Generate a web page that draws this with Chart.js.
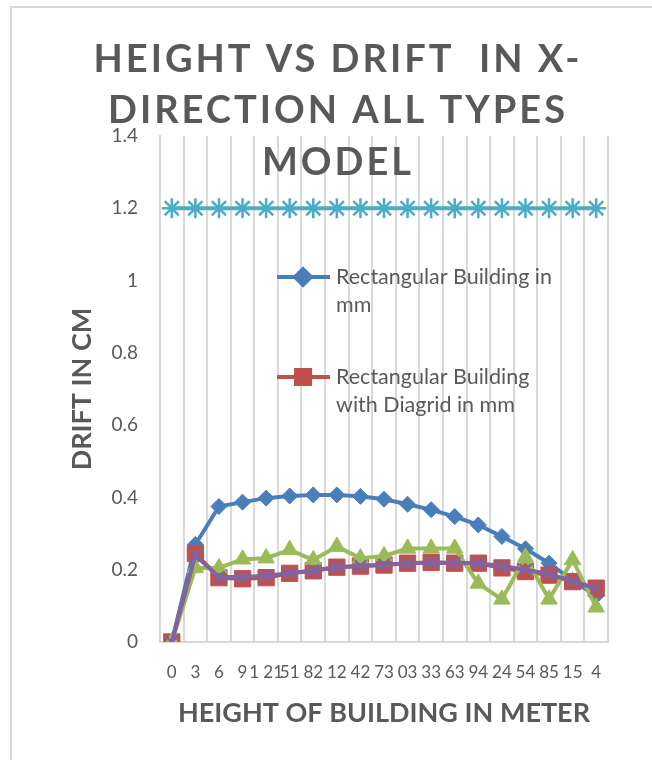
<!DOCTYPE html>
<html>
<head>
<meta charset="utf-8">
<script src="https://cdn.jsdelivr.net/npm/chart.js@4.4.1/dist/chart.umd.min.js"></script>
<style>
  body { margin: 0; background: #fff; }
  #wrap { width: 652px; height: 760px; }
</style>
</head>
<body>
<div id="wrap"><canvas id="drift" width="652" height="760"></canvas></div>
<script>
// tick labels as they appear on the axis (0..54 m, every 3 m)
const heightLabels = ["0", "3", "6", "9", "1 21", "51", "82", "12", "42", "73", "03", "33", "63", "94", "24", "54", "85", "15", "4"]

const rectBuilding = [0, 0.27, 0.375, 0.387, 0.398, 0.404, 0.407, 0.407, 0.403, 0.395, 0.381, 0.366, 0.347, 0.324, 0.292, 0.258, 0.218, 0.17, 0.128]
const rectDiagrid = [0, 0.245, 0.178, 0.175, 0.178, 0.19, 0.197, 0.207, 0.21, 0.213, 0.218, 0.22, 0.218, 0.218, 0.205, 0.195, 0.185, 0.167, 0.149]
const series3 = [0, 0.205, 0.205, 0.229, 0.232, 0.255, 0.227, 0.264, 0.232, 0.238, 0.259, 0.259, 0.259, 0.162, 0.118, 0.234, 0.118, 0.227, 0.096]
const series4 = [0, 0.24, 0.18, 0.18, 0.183, 0.19, 0.198, 0.207, 0.21, 0.214, 0.218, 0.22, 0.219, 0.218, 0.21, 0.2, 0.188, 0.168, 0.148]
const series5 = [1.2, 1.2, 1.2, 1.2, 1.2, 1.2, 1.2, 1.2, 1.2, 1.2, 1.2, 1.2, 1.2, 1.2, 1.2, 1.2, 1.2, 1.2, 1.2]

const titleLines = ["HEIGHT VS DRIFT  IN X-", "DIRECTION ALL TYPES", "MODEL"]
const textGray = "#595959"
const gridGray = "#d9d9d9"

function series(label, data, color, style, radius, order) {
	return {
		label: label,
		data: data,
		borderColor: color,
		backgroundColor: color,
		borderWidth: 4,
		pointStyle: style,
		pointRadius: radius,
		pointHoverRadius: radius,
		pointBackgroundColor: color,
		pointBorderColor: color,
		pointBorderWidth: (style === 'crossRot' || style === 'star') ? 2.5 : 1,
		tension: 0,
		order: order,
	}
}

// white background + outer chart frame
const framePlugin = {
	id: 'frame',
	beforeDraw(chart) {
		const ctx = chart.ctx
		ctx.save()
		ctx.fillStyle = '#fff'
		ctx.fillRect(0, 0, chart.width, chart.height)
		ctx.strokeStyle = gridGray
		ctx.lineWidth = 2
		ctx.strokeRect(11, 7, 700, 800)
		ctx.restore()
	}
}

// title sits over the top of the plot, like the original
const titlePlugin = {
	id: 'bigTitle',
	afterDraw(chart) {
		const ctx = chart.ctx
		const baselines = [72, 123, 175]
		ctx.save()
		ctx.fillStyle = textGray
		ctx.font = "bold 38px Lato"
		ctx.textAlign = 'center'
		ctx.textBaseline = 'alphabetic'
		ctx.letterSpacing = '3px'
		titleLines.forEach((line, i) => {
			ctx.fillText(line, 338, baselines[i])
		})
		ctx.restore()
	}
}

// legend drawn inside the plot, only the first two series show
const legendPlugin = {
	id: 'innerLegend',
	afterDraw(chart) {
		const ctx = chart.ctx
		const entries = [
			{ ds: 0, y: 277, lines: ["Rectangular Building in", "mm"] },
			{ ds: 1, y: 377, lines: ["Rectangular Building", "with Diagrid in mm"] },
		]
		ctx.save()
		entries.forEach(e => {
			const ds = chart.data.datasets[e.ds]
			ctx.strokeStyle = ds.borderColor
			ctx.lineWidth = 4
			ctx.beginPath()
			ctx.moveTo(277, e.y)
			ctx.lineTo(330, e.y)
			ctx.stroke()
			ctx.fillStyle = ds.pointBackgroundColor
			Chart.helpers.drawPoint(ctx, {
				pointStyle: ds.pointStyle,
				radius: e.ds === 1 ? 10 : ds.pointRadius,
				borderWidth: ds.pointBorderWidth,
				rotation: 0
			}, 303, e.y)
			ctx.fillStyle = textGray
			ctx.font = "21.5px Lato"
			ctx.textAlign = 'left'
			ctx.textBaseline = 'middle'
			e.lines.forEach((t, i) => ctx.fillText(t, 336, e.y + i * 28))
		})
		ctx.restore()
	}
}

new Chart(document.getElementById('drift'), {
	type: 'line',
	data: {
		labels: heightLabels,
		datasets: [
			series("Rectangular Building in mm", rectBuilding, "#4a7ebb", 'rectRot', 8, 5),
			series("Rectangular Building with Diagrid in mm", rectDiagrid, "#c0504d", 'rect', 11.5, 4),
			series("Series3", series3, "#9bbb59", 'triangle', 9.5, 3),
			series("Series4", series4, "#8064a2", 'crossRot', 8, 2),
			series("Series5", series5, "#4bacc6", 'star', 10, 1),
		]
	},
	options: {
		responsive: false,
		animation: false,
		devicePixelRatio: 1,
		layout: {
			padding: { left: 0, top: 136, right: 44, bottom: 0 }
		},
		plugins: {
			legend: { display: false },
			title: { display: false },
			tooltip: { enabled: false },
		},
		scales: {
			x: {
				offset: true,
				afterFit(scale) { scale.height = 118 },
				grid: {
					offset: true,
					color: gridGray,
					lineWidth: 2,
					drawTicks: false,
				},
				border: { color: gridGray, width: 2 },
				ticks: {
					color: textGray,
					font: { family: "Lato", size: 17 },
					padding: 20,
					autoSkip: false,
					maxRotation: 0,
				},
				title: {
					display: true,
					text: "HEIGHT OF BUILDING IN METER",
					color: textGray,
					font: { family: "Lato", size: 27, weight: 'bold' },
					padding: { top: 0, bottom: 31 },
				}
			},
			y: {
				min: 0,
				max: 1.4,
				afterFit(scale) { scale.width = 160 },
				grid: { display: false, drawTicks: false },
				border: { color: gridGray, width: 2 },
				ticks: {
					stepSize: 0.2,
					color: textGray,
					font: { family: "Lato", size: 19 },
					padding: 22,
					callback: v => String(Number(v.toFixed(1))),
				},
				title: {
					display: true,
					text: "DRIFT IN CM",
					color: textGray,
					font: { family: "Lato", size: 27, weight: 'bold' },
					padding: { top: 66, bottom: 0 },
				}
			}
		}
	},
	plugins: [framePlugin, titlePlugin, legendPlugin]
})
</script>
</body>
</html>
